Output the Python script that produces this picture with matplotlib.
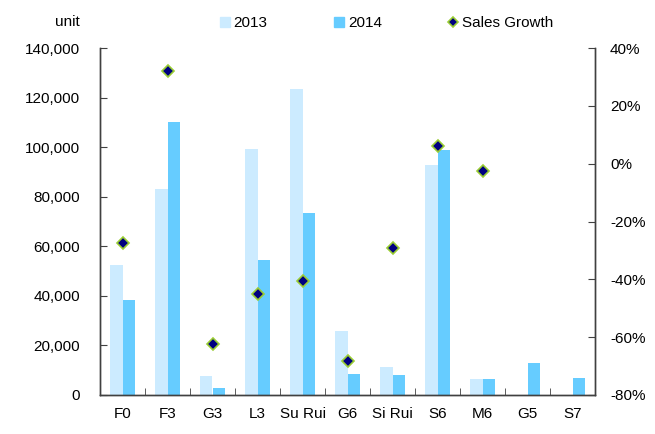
import matplotlib
matplotlib.use("Agg")
import matplotlib.pyplot as plt
from matplotlib.lines import Line2D
from matplotlib.ticker import FuncFormatter
import numpy as np

plt.rcParams['font.family'] = ['Liberation Sans', 'DejaVu Sans']

categories = ["F0", "F3", "G3", "L3", "Su Rui", "G6", "Si Rui", "S6", "M6", "G5", "S7"]
sales_2013 = [52400, 83300, 7800, 99200, 123400, 25800, 11300, 92800, 6600, 0, 0]
sales_2014 = [38300, 110300, 2900, 54500, 73300, 8300, 8100, 98800, 6600, 12800, 6700]
growth_pct = [-27.3, 32.2, -62.4, -45.1, -40.6, -68.1, -29.3, 6.1, -2.5, None, None]

c2013 = "#CCEBFF"
c2014 = "#66CCFF"
spine_c = "#404040"
fs = 11

fig = plt.figure(figsize=(6.55, 4.34), dpi=100)
ax = fig.add_axes([100/655, 1-395/434, 495/655, 347/434])
ax2 = ax.twinx()

x = np.arange(len(categories))
w = 0.28
ax.bar(x - w/2, sales_2013, width=w, color=c2013, zorder=2)
ax.bar(x + w/2, sales_2014, width=w, color=c2014, zorder=2)

gx = [i for i, g in enumerate(growth_pct) if g is not None]
gy = [g for g in growth_pct if g is not None]
ax2.plot(gx, gy, ls='', marker='D', markersize=6, markerfacecolor='#000080',
         markeredgecolor='#99CC33', markeredgewidth=1.2, zorder=3)

ax.set_xlim(-0.5, len(categories) - 0.5)
ax.set_ylim(0, 140000)
ax.set_yticks(np.arange(0, 140001, 20000))
ax.yaxis.set_major_formatter(FuncFormatter(lambda v, p: f"{int(v):,}"))
ax2.set_ylim(-80, 40)
ax2.set_yticks(np.arange(-80, 41, 20))
ax2.yaxis.set_major_formatter(FuncFormatter(lambda v, p: f"{int(v)}%"))

ax.set_xticks(x)
ax.set_xticklabels(categories)
ax.set_xticks(np.arange(0.5, len(categories) - 1, 1), minor=True)
ax.tick_params(axis='x', which='major', length=0, pad=9, labelsize=fs)
ax.tick_params(axis='x', which='minor', direction='in', length=5, color=spine_c)
ax.tick_params(axis='y', direction='in', length=5, pad=14.4, labelsize=fs, color=spine_c)
ax2.tick_params(axis='y', direction='in', length=5, pad=10.8, labelsize=fs, color=spine_c)

for a in (ax, ax2):
    a.spines['top'].set_visible(False)
    for s in ('left', 'right', 'bottom'):
        a.spines[s].set_color(spine_c)
        a.spines[s].set_linewidth(1.0)

fig.text(80/655, 1-22/434, "unit", ha='right', va='center', fontsize=fs)

handles = [
    Line2D([], [], ls='', marker='s', markersize=7, color=c2013),
    Line2D([], [], ls='', marker='s', markersize=7, color=c2014),
    Line2D([], [], ls='', marker='D', markersize=5.5, markerfacecolor='#000080',
           markeredgecolor='#99CC33', markeredgewidth=1.2),
]
fig.legend(handles, ["2013", "2014", "Sales Growth"], ncol=3, loc='center left',
           bbox_to_anchor=(220/655, 1-23/434), frameon=False, fontsize=fs,
           handlelength=0.6, handletextpad=0.3, columnspacing=4.35, borderpad=0,
           borderaxespad=0)

fig.savefig("out.png", dpi=100)
